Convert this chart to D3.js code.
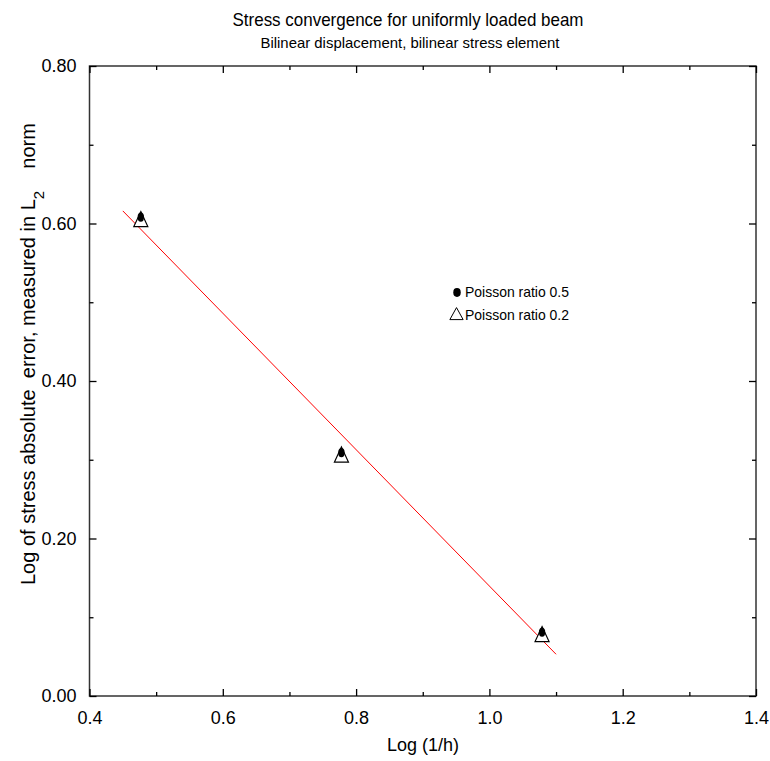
<!DOCTYPE html>
<html><head><meta charset="utf-8">
<script src="https://cdn.jsdelivr.net/npm/d3@7/dist/d3.min.js"></script>
<style>body{margin:0;background:#fff}svg{display:block}text{font-family:"Liberation Sans",Arial,sans-serif;fill:#000}</style>
</head><body>
<script>
const xTicks = [0.4, 0.6, 0.8, 1.0, 1.2, 1.4];
const xTickLabels = ["0.4", "0.6", "0.8", "1.0", "1.2", "1.4"];
const yTicks = [0, 0.2, 0.4, 0.6, 0.8];
const yTickLabels = ["0.00", "0.20", "0.40", "0.60", "0.80"];
const logInvH = [0.477, 0.778, 1.079];
const poisson05 = [0.608, 0.309, 0.081];
const poisson02 = [0.605, 0.306, 0.078];
const fitX = [0.45, 1.10];
const fitY = [0.616, 0.053];

const W = 770, H = 761;
const L = 89.5, R = 756, T = 66, B = 696;
const svg = d3.select("body").append("svg").attr("width", W).attr("height", H);
const x = d3.scaleLinear().domain([0.4, 1.4]).range([L, R]);
const y = d3.scaleLinear().domain([0, 0.8]).range([B, T]);

const minorX = d3.range(0.5, 1.4, 0.2);
const minorY = d3.range(0.1, 0.8, 0.2);
const axColor = "#333";

// frame
svg.append("rect").attr("x", L).attr("y", T).attr("width", R - L).attr("height", B - T)
  .attr("fill", "none").attr("stroke", axColor).attr("stroke-width", 1.5);

// axes with inward ticks
const gB = svg.append("g").attr("transform", `translate(0,${B})`)
  .call(d3.axisBottom(x).tickValues(xTicks).tickSize(-7).tickFormat((d, i) => xTickLabels[i]).tickPadding(15));
const gBm = svg.append("g").attr("transform", `translate(0,${B})`)
  .call(d3.axisBottom(x).tickValues(minorX).tickSize(-4).tickFormat(""));
const gT = svg.append("g").attr("transform", `translate(0,${T})`)
  .call(d3.axisTop(x).tickValues(xTicks).tickSize(-7).tickFormat(""));
const gTm = svg.append("g").attr("transform", `translate(0,${T})`)
  .call(d3.axisTop(x).tickValues(minorX).tickSize(-4).tickFormat(""));
const gL = svg.append("g").attr("transform", `translate(${L},0)`)
  .call(d3.axisLeft(y).tickValues(yTicks).tickSize(-7).tickFormat((d, i) => yTickLabels[i]).tickPadding(13));
const gLm = svg.append("g").attr("transform", `translate(${L},0)`)
  .call(d3.axisLeft(y).tickValues(minorY).tickSize(-4).tickFormat(""));
const gR = svg.append("g").attr("transform", `translate(${R},0)`)
  .call(d3.axisRight(y).tickValues(yTicks).tickSize(-7).tickFormat(""));
const gRm = svg.append("g").attr("transform", `translate(${R},0)`)
  .call(d3.axisRight(y).tickValues(minorY).tickSize(-4).tickFormat(""));
[gB, gBm, gT, gTm, gL, gLm, gR, gRm].forEach(g => {
  g.select(".domain").remove();
  g.selectAll(".tick line").attr("stroke", "#000").attr("stroke-width", 1.3);
  g.selectAll("text").style("font-size", "18px").attr("fill", "#000");
});

// fit line
svg.append("line")
  .attr("x1", x(fitX[0])).attr("y1", y(fitY[0]))
  .attr("x2", x(fitX[1])).attr("y2", y(fitY[1]))
  .attr("stroke", "#ff0000").attr("stroke-width", 1);

// markers
const triPath = "M0,-8L7,7L-7,7Z";
svg.selectAll(".tri").data(logInvH.map((v, i) => [v, poisson02[i]])).join("path")
  .attr("transform", d => `translate(${x(d[0])},${y(d[1])})`)
  .attr("d", triPath).attr("fill", "#fff").attr("stroke", "#000").attr("stroke-width", 1.2);
svg.selectAll(".dot").data(logInvH.map((v, i) => [v, poisson05[i]])).join("path")
  .attr("transform", d => `translate(${x(d[0])},${y(d[1])}) scale(0.8,1.15)`)
  .attr("d", d3.symbol().type(d3.symbolCircle).size(50)).attr("fill", "#000");

// legend
svg.append("path").attr("transform", "translate(457,292.5) scale(0.9,1.05)").attr("d", d3.symbol().type(d3.symbolCircle).size(55)).attr("fill", "#000");
svg.append("text").attr("x", 465).attr("y", 297).style("font-size", "15px")
  .attr("textLength", 104).attr("lengthAdjust", "spacingAndGlyphs").text("Poisson ratio 0.5");
svg.append("path").attr("transform", "translate(456.5,314) scale(0.95,0.8)").attr("d", triPath)
  .attr("fill", "#fff").attr("stroke", "#000").attr("stroke-width", 1).attr("vector-effect", "non-scaling-stroke");
svg.append("text").attr("x", 465).attr("y", 319.5).style("font-size", "15px")
  .attr("textLength", 104).attr("lengthAdjust", "spacingAndGlyphs").text("Poisson ratio 0.2");

// titles
svg.append("text").attr("x", 408).attr("y", 26).attr("text-anchor", "middle").style("font-size", "18.5px")
  .attr("textLength", 351).attr("lengthAdjust", "spacingAndGlyphs").text("Stress convergence for uniformly loaded beam");
svg.append("text").attr("x", 410).attr("y", 48).attr("text-anchor", "middle").style("font-size", "15px")
  .attr("textLength", 299).attr("lengthAdjust", "spacingAndGlyphs").text("Bilinear displacement, bilinear stress element");

// x label
svg.append("text").attr("x", 423).attr("y", 751).attr("text-anchor", "middle").style("font-size", "18px").text("Log (1/h)");

// y label
const yl = svg.append("text").attr("transform", "translate(35,585) rotate(-90)").style("font-size", "20px");
yl.append("tspan").text("Log of stress absolute\u00a0\u00a0error, measured in L");
yl.append("tspan").attr("dy", 9).style("font-size", "15px").text("2");
yl.append("tspan").attr("dy", -9).text("\u00a0\u00a0\u00a0\u00a0norm");
</script>
</body></html>
